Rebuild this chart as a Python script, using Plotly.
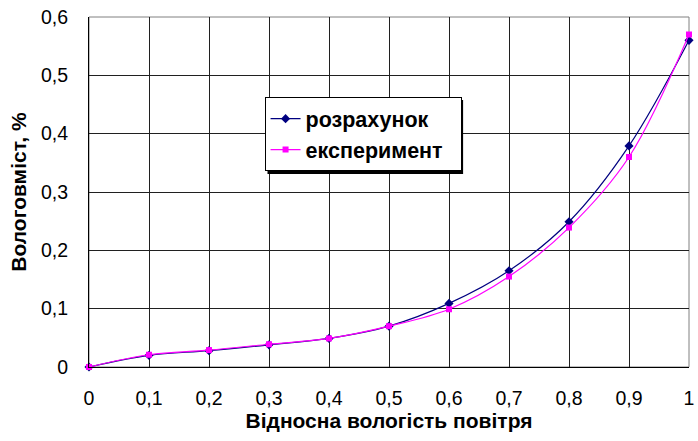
import plotly.graph_objects as go

x_vals = [0, 0.1, 0.2, 0.3, 0.4, 0.5, 0.6, 0.7, 0.8, 0.9, 1.0]
calc_vals = [0, 0.020, 0.028, 0.038, 0.049, 0.070, 0.109, 0.165, 0.249, 0.379, 0.560]
exp_vals = [0, 0.021, 0.029, 0.039, 0.049, 0.070, 0.099, 0.155, 0.239, 0.360, 0.570]
x_ticks = [0, 0.1, 0.2, 0.3, 0.4, 0.5, 0.6, 0.7, 0.8, 0.9, 1.0]
y_ticks = [0, 0.1, 0.2, 0.3, 0.4, 0.5, 0.6]

FONT = "Liberation Sans, Arial, sans-serif"
NB = "\u00a0"

fig = go.Figure()
fig.add_trace(go.Scatter(
    x=x_vals, y=calc_vals, name="розрахунок" + NB * 4, mode="lines+markers",
    legendgroup="a", cliponaxis=False,
    line=dict(color="#000080", width=1.2, shape="spline", smoothing=1),
    marker=dict(symbol="diamond", size=7, color="#000080"),
))
fig.add_trace(go.Scatter(
    x=x_vals, y=exp_vals, name="експеримент" + NB * 2, mode="lines+markers",
    legendgroup="b", cliponaxis=False,
    line=dict(color="#FF00FF", width=1.2, shape="spline", smoothing=1),
    marker=dict(symbol="square", size=6, color="#FF00FF"),
))

# legend shadow
fig.add_shape(type="rect", xref="paper", yref="paper",
              x0=0.2975, x1=0.6235, y0=0.5514, y1=0.7629,
              fillcolor="black", line=dict(width=0), layer="above")

# gray top/right border
fig.add_shape(type="rect", xref="paper", yref="paper", x0=0, x1=1, y0=0, y1=1,
              line=dict(color="#808080", width=1), layer="below")

fig.update_layout(
    width=698, height=441,
    margin=dict(l=89, r=4, t=17, b=74),
    paper_bgcolor="white", plot_bgcolor="white",
    separators=", ",
    font=dict(family=FONT, size=19.5, color="black"),
    showlegend=True,
    legend=dict(x=0.2926, y=0.771, xanchor="left", yanchor="top",
                bgcolor="white", bordercolor="black", borderwidth=1,
                font=dict(family=FONT, size=21.5, color="black", weight="bold"),
                itemwidth=30, traceorder="grouped", tracegroupgap=0),
    xaxis=dict(range=[0, 1], tickvals=x_ticks,
               showgrid=True, gridcolor="#202020", gridwidth=1,
               showline=True, linecolor="black", linewidth=1,
               zeroline=False, ticks="", ticklabelstandoff=14,
               ticklabeloverflow="allow",
               title=dict(text="<b>Відносна вологість повітря</b>",
                          font=dict(family=FONT, size=21), standoff=4)),
    yaxis=dict(range=[0, 0.6], tickvals=y_ticks,
               showgrid=True, gridcolor="#202020", gridwidth=1,
               showline=True, linecolor="black", linewidth=1,
               zeroline=False, ticks="", ticklabelstandoff=16,
               title=dict(text="<b>Вологовміст, %</b>",
                          font=dict(family=FONT, size=21), standoff=8)),
)
fig.write_html("out.html", config={"displayModeBar": False},
               post_script="document.body.style.margin='0';")
